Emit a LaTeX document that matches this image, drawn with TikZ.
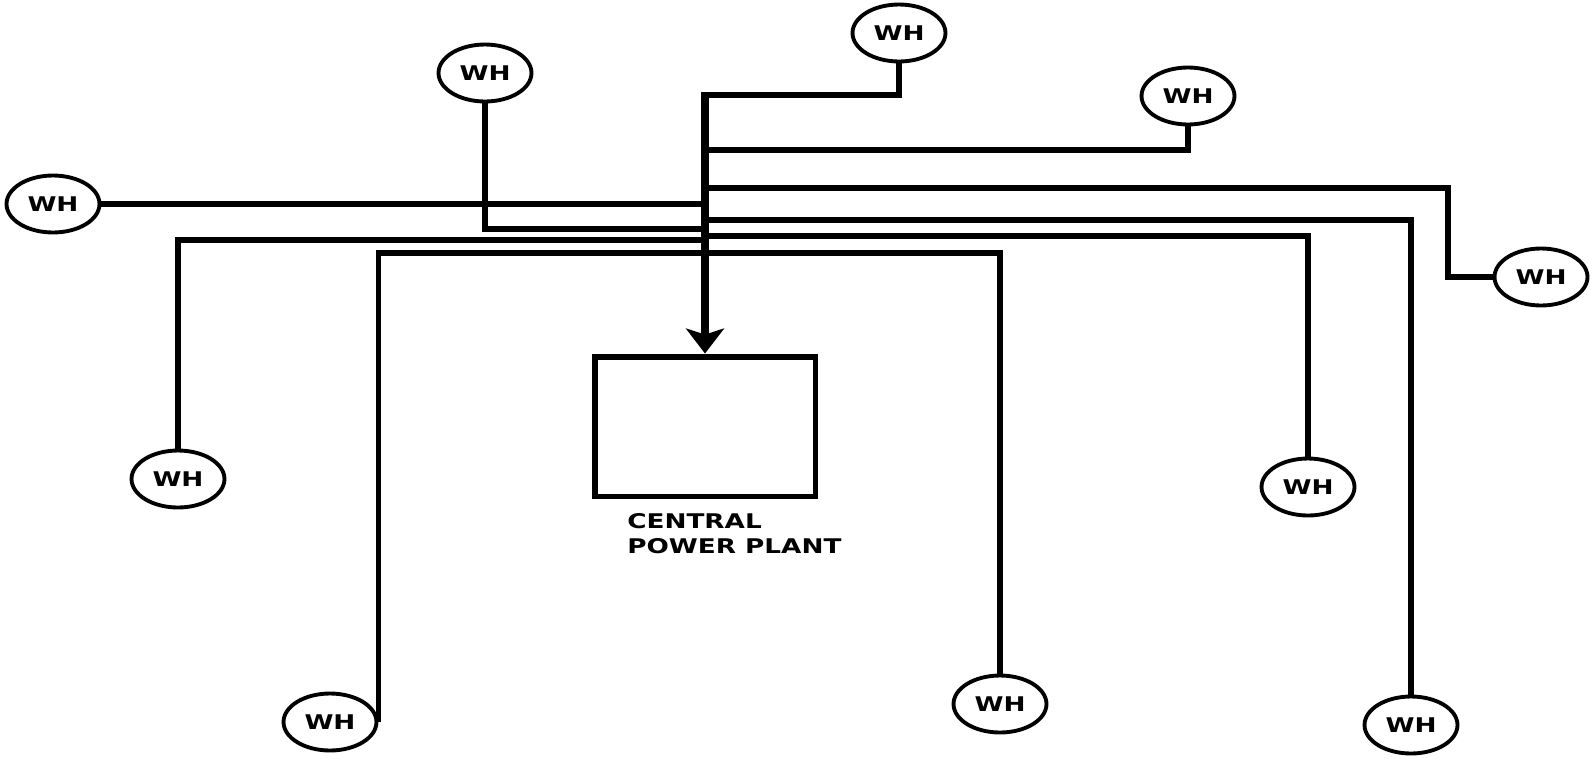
\documentclass[tikz,border=0pt]{standalone}
\usepackage{fontspec}
\newfontfamily\labelfont{DejaVu Sans}[FakeStretch=1.3]
\usepackage{tikz}
\usetikzlibrary{arrows.meta, shapes.geometric}

\begin{document}
\begin{tikzpicture}[x=0.02cm, y=-0.02cm,
    heater/.style={draw, ellipse, line width=2.2pt, minimum width=1.86cm, minimum height=1.14cm, inner sep=0pt,
        font=\labelfont\bfseries\fontsize{11.5}{12}\selectfont},
    wire/.style={line width=3pt},
    trunk/.style={line width=4.6pt, shorten <=-1.5pt, -{Stealth[length=0.5cm, width=0.76cm, inset=0.12cm]}}]
    \useasboundingbox (0,0) rectangle (1592,758);

    % Central power plant
    \node[draw, line width=3.4pt, minimum width=4.42cm, minimum height=2.8cm] (plant) at (705,426.5) {};
    \node[anchor=north west, inner sep=0pt, align=left, font=\labelfont\bfseries\fontsize{11.5}{14.5}\selectfont] (caption) at (627,513) {CENTRAL\\POWER PLANT};

    % Water heaters
    \node[heater] (htop) at (899,33) {WH};
    \node[heater] (htopl) at (485,73) {WH};
    \node[heater] (htopr) at (1188,96) {WH};
    \node[heater] (hleft) at (53,204) {WH};
    \node[heater] (hright) at (1541,277) {WH};
    \node[heater] (hmidl) at (178,479) {WH};
    \node[heater] (hmidr) at (1308,487) {WH};
    \node[heater] (hbotl) at (330,722) {WH};
    \node[heater] (hbotm) at (1000,704) {WH};
    \node[heater] (hbotr) at (1411,725) {WH};

    % Junctions on the trunk
    \coordinate (j0) at (705,95);
    \coordinate (j1) at (705,150);
    \coordinate (j2) at (705,188);
    \coordinate (j8) at (705,204);
    \coordinate (j3) at (705,220);
    \coordinate (j7) at (705,229);
    \coordinate (j4) at (705,236);
    \coordinate (j6) at (705,240);
    \coordinate (j5) at (705,253);

    % Lines
    \draw[wire] (htop) |- (j0);
    \draw[wire] (htopr) |- (j1);
    \draw[wire] (hright) -- ++(-93,0) |- (j2);
    \draw[wire] (hbotr) |- (j3);
    \draw[wire] (hmidr) |- (j4);
    \draw[wire] (hbotm) |- (j5);
    \draw[wire] (hbotl.east) |- (j5);
    \draw[wire] (hmidl) |- (j6);
    \draw[wire] (htopl) |- (j7);
    \draw[wire] (hleft) -- (j8);
    \draw[trunk] (j0) -- (plant);
\end{tikzpicture}
\end{document}
